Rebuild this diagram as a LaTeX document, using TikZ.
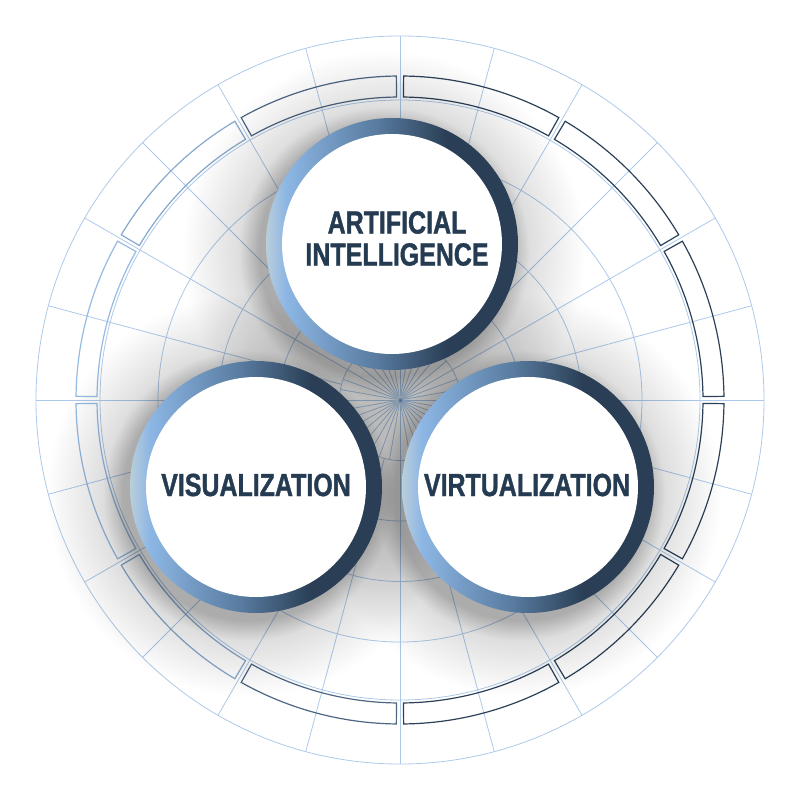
\documentclass[tikz,border=0pt]{standalone}
\usepackage{fontspec}
\newfontfamily\bubblefont[FakeStretch=0.78, FakeBold=1.2]{Liberation Sans}
\definecolor{gridblue}{RGB}{172,201,234}
\definecolor{dotblue}{RGB}{96,140,200}
\definecolor{textnavy}{RGB}{37,59,82}
\definecolor{ringA}{RGB}{186,206,218}
\definecolor{ringB}{RGB}{140,182,228}
\definecolor{ringC}{RGB}{88,123,159}
\definecolor{ringD}{RGB}{42,62,85}
\definecolor{segdark}{RGB}{44,64,88}
\definecolor{seglight}{RGB}{150,186,226}
\definecolor{shadowgray}{RGB}{172,172,172}
\definecolor{shadowmid}{RGB}{222,222,222}
\pgfdeclarehorizontalshading{ringshade}{100bp}{color(0bp)=(ringA); color(25bp)=(ringA); color(29bp)=(ringB); color(47bp)=(ringC); color(61bp)=(ringD); color(100bp)=(ringD)}
\pgfdeclareradialshading{glowshade}{\pgfpoint{0bp}{0bp}}{color(0bp)=(shadowgray); color(15.5bp)=(shadowgray); color(18bp)=(shadowmid); color(25bp)=(white); color(50bp)=(white)}
\tikzset{
  gridline/.style={draw=gridblue, line width=0.8pt},
  segline/.style={line width=1.2pt, line join=miter},
  glow/.style={shading=glowshade, blend mode=multiply},
  bubble/.style={circle, minimum size=252pt, inner sep=0pt, shading=ringshade,
    path picture={\fill[white] (path picture bounding box.center) circle (110);}},
  caption/.style={text=textnavy, font=\bubblefont\bfseries\fontsize{32}{32}\selectfont, align=center, inner sep=0pt}
}
\begin{document}
\begin{tikzpicture}[x=1pt, y=1pt]
        \useasboundingbox (-400,-400) rectangle (400,400);
        \coordinate (o) at (0,0);
        \coordinate (aic) at (-8,156);
        \coordinate (visc) at (-144,-87);
        \coordinate (virc) at (128,-87);

        \foreach \r in {60.5,121,181.5,242,300,364}
            \draw[gridline] (o) circle (\r);
        \foreach \a in {0,10,...,350}
            \draw[gridline] (o) -- (\a:60.5);
        \foreach \a in {0,15,...,345}
            \draw[gridline] (\a:60.5) -- (\a:364);
        \shade[inner color=dotblue, outer color=gridblue!40] (o) circle (4);

        \foreach \k in {0,...,11} {
            \pgfmathsetmacro\startA{\k*30+0.65}
            \pgfmathsetmacro\endA{\k*30+29.35}
            \pgfmathsetmacro\darkp{max(0,min(100,100+120*cos(\k*30+15)))}
            \draw[segline, draw=segdark!\darkp!seglight] (\startA:303) arc[start angle=\startA, end angle=\endA, radius=303]
                -- (\endA:324) arc[start angle=\endA, end angle=\startA, radius=324] -- cycle;
        }

        \foreach \c in {aic,visc,virc}
            \shade[glow] ([shift={(-8,-8)}]\c) circle (202);

        \node[bubble] (ai) at (aic) {};
        \node[bubble] (vis) at (visc) {};
        \node[bubble] (vir) at (virc) {};

        \node[caption] (aitext) at ([shift={(5,5.5)}]ai.center) {ARTIFICIAL\\INTELLIGENCE};
        \node[caption] (vistext) at ([shift={(0,2)}]vis.center) {VISUALIZATION};
        \node[caption] (virtext) at ([shift={(-1,2)}]vir.center) {VIRTUALIZATION};
\end{tikzpicture}
\end{document}
